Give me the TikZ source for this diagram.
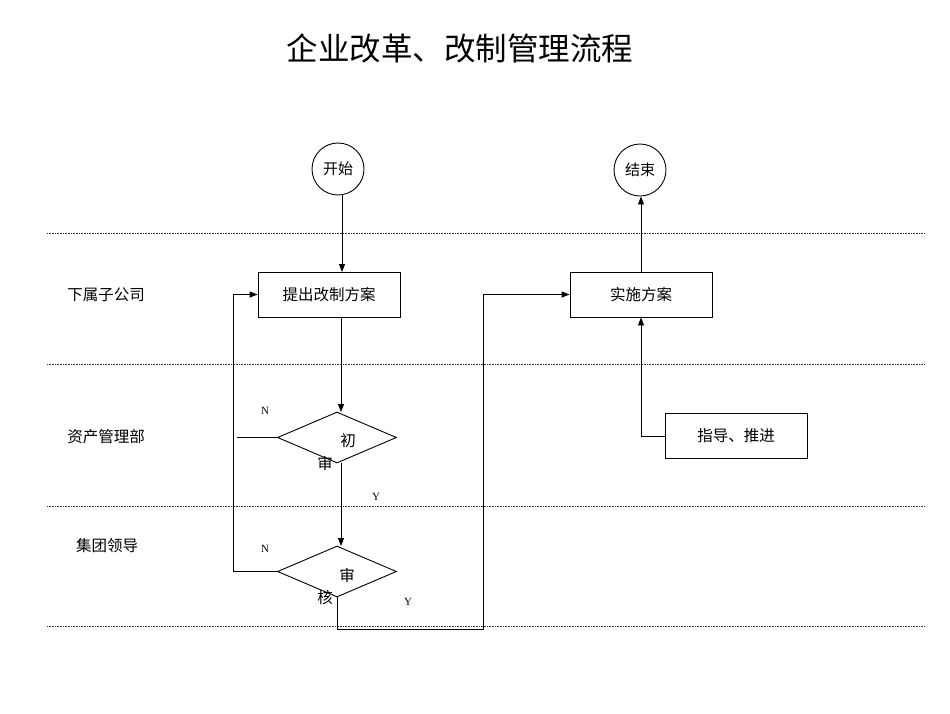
\documentclass[tikz,border=0pt]{standalone}
\usepackage{fontspec}
\setmainfont{Liberation Serif}
\newfontfamily\cjk{Noto Sans CJK SC}
\usetikzlibrary{shapes.geometric,arrows.meta}
\begin{document}
\begin{tikzpicture}[x=1pt,y=-1pt,
  line width=0.9pt,
  lane/.style={line width=0.8pt,dash pattern=on 0.8pt off 0.8pt,black!80},
  proc/.style={draw,minimum width=142pt,minimum height=45pt,inner sep=0pt,font=\cjk\fontsize{15.5}{17}\selectfont},
  term/.style={draw,circle,minimum size=52pt,inner sep=0pt,font=\cjk\fontsize{15}{17}\selectfont},
  dec/.style={draw,diamond,minimum width=119pt,minimum height=51pt,inner sep=0pt},
  lbl/.style={font=\cjk\fontsize{15.5}{17}\selectfont},
  yn/.style={font=\fontsize{11}{12}\selectfont},
  arr/.style={-{Triangle[length=8pt,width=6pt]}}]
\useasboundingbox (0,0) rectangle (950,713);
\node[font=\cjk\fontsize{31.5}{34}\selectfont] (title) at (460,48) {企业改革、改制管理流程};
% lanes
\foreach \yy in {233,364,506,626} \draw[lane] (47,\yy) -- (925,\yy);
\node[lbl] (l1) at (106,295) {下属子公司};
\node[lbl] (l2) at (106,437) {资产管理部};
\node[lbl] (l3) at (107,546) {集团领导};
% nodes
\node[term] (start) at (338,169) {开始};
\node[term] (end) at (640,170) {结束};
\node[proc] (p1) at (329,294.5) {提出改制方案};
\node[proc] (p2) at (641,294.5) {实施方案};
\node[proc] (p3) at (736,436) {指导、推进};
\node[dec] (d1) at (337,437.5) {};
\node[dec] (d2) at (337,571.5) {};
\node[lbl] (d1a) at (348,441) {初};
\node[lbl] (d1b) at (325,464) {审};
\node[lbl] (d2a) at (347,576) {审};
\node[lbl] (d2b) at (325,598) {核};
\node[yn] (n1) at (265,411) {N};
\node[yn] (n2) at (265,549) {N};
\node[yn] (y1) at (376,497) {Y};
\node[yn] (y2) at (408,602) {Y};
% coordinates
\coordinate (c1) at (233,294.5);
\coordinate (c2) at (233,571.5);
\coordinate (c3) at (237,437.5);
\coordinate (c4) at (337,629);
\coordinate (c5) at (483,629);
\coordinate (c6) at (483,294.5);
\coordinate (c7) at (641,436);
% connectors
\draw[arr] (342,195) -- (342,272);
\draw[arr] (341,317) -- (341,412);
\draw (d1.west) -- (c3);
\draw[arr] (d2.west) -- (c2) -- (c1) -- (p1.west);
\draw[arr] (341,463) -- (341,546);
\draw[arr] (337,597) -- (c4) -- (c5) -- (c6) -- (p2.west);
\draw[arr] (p2.north) -- (p2.north |- end.south);
\draw[arr] (p3.west) -- (c7) -- (p2.south);
\end{tikzpicture}
\end{document}
